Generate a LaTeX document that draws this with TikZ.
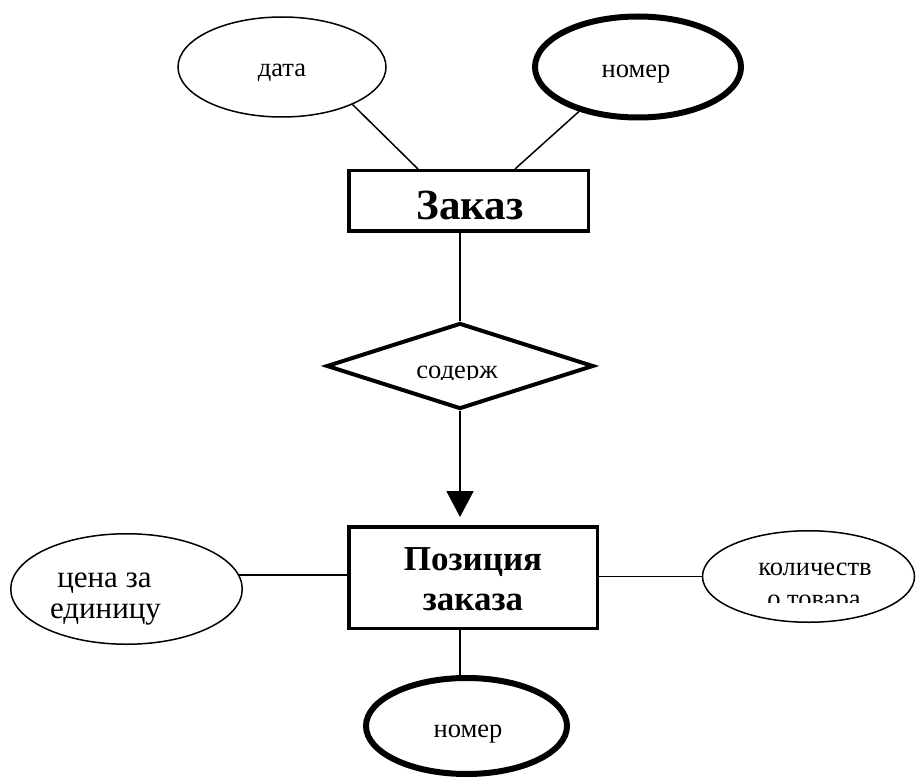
\documentclass[tikz,border=0pt]{standalone}
\usepackage{fontspec}
\setmainfont{Liberation Serif}
\usetikzlibrary{shapes.geometric,arrows.meta,calc}
\begin{document}
\begin{tikzpicture}[x=1pt,y=-1pt,
  attr/.style={draw,ellipse,line width=1.5pt,inner sep=0pt},
  keyattr/.style={draw,ellipse,line width=6pt,inner sep=0pt},
  ent/.style={draw,rectangle,line width=3.5pt,inner sep=0pt},
  relshape/.style={draw,diamond,line width=4pt,inner sep=0pt,aspect=3},
  lbl/.style={font=\fontsize{26.5}{29}\selectfont,inner sep=0pt,anchor=base},
  biglbl/.style={font=\fontsize{31}{34}\selectfont,inner sep=0pt,anchor=base},
  entlbl/.style={font=\bfseries\fontsize{35}{40}\selectfont,inner sep=0pt,anchor=base},
  conn/.style={line width=1.5pt}]
\useasboundingbox (0,0) rectangle (916,778);

% attributes of Заказ
\node[attr,minimum width=208pt,minimum height=100pt] (data) at (282,67) {};
\node[lbl] (datat) at (282,77) {дата};
\node[keyattr,minimum width=206pt,minimum height=101pt] (nom1) at (638,67) {};
\node[lbl] (nom1t) at (636,78) {номер};

% entity Заказ
\node[ent,minimum width=239.5pt,minimum height=60.5pt] (zak) at (468.5,201) {};
\node[entlbl,font=\bfseries\fontsize{43}{48}\selectfont] (zakt) at (470,220) {Заказ};

% relationship
\node[relshape,minimum width=267pt,minimum height=86pt] (rel) at (460,366) {};
\begin{scope}
  \clip (300,300) rectangle (620,379.5);
  \node[lbl] (relt) at (457,378) {содерж};
\end{scope}

% entity Позиция заказа
\node[ent,minimum width=248.5pt,minimum height=101.5pt] (poz) at (473,577.5) {};
\node[entlbl] (poz1) at (473,570) {Позиция};
\node[entlbl] (poz2) at (473,610) {заказа};

% attributes of Позиция заказа
\node[attr,minimum width=231.5pt,minimum height=110.5pt] (cena) at (126.5,589) {};
\node[biglbl] (cena1) at (104.5,587) {цена за};
\node[biglbl] (cena2) at (105.5,618) {единицу};

\node[attr,minimum width=212pt,minimum height=91.5pt] (kolvo) at (808.5,576.5) {};
\node[lbl] (kolvo1) at (815,575) {количеств};
\begin{scope}
  \clip (700,520) rectangle (916,602);
  \node[lbl] (kolvo2) at (814,607) {о товара};
\end{scope}

\node[keyattr,minimum width=201pt,minimum height=96pt] (nom2) at (466.5,726) {};
\node[lbl] (nom2t) at (468,737) {номер};

% connectors
\draw[conn] (data.-28) -- ($(zak.north west)+(71,0)$);
\draw[conn] (nom1.-143) -- ($(zak.north west)+(168,0)$);
\draw[conn] (zak.south -| rel.north) -- (rel.north);
\draw[line width=2pt,-{Triangle[length=26pt,width=27pt]},shorten >=8pt] (rel.south) -- (rel.south |- poz.north);
\draw[conn] (rel.south |- poz.south) -- (rel.south |- nom2.north);
\draw[conn] (cena.7) -- (cena.7 -| poz.west);
\draw[conn] (kolvo.west) -- (kolvo.west -| poz.east);
\end{tikzpicture}
\end{document}
